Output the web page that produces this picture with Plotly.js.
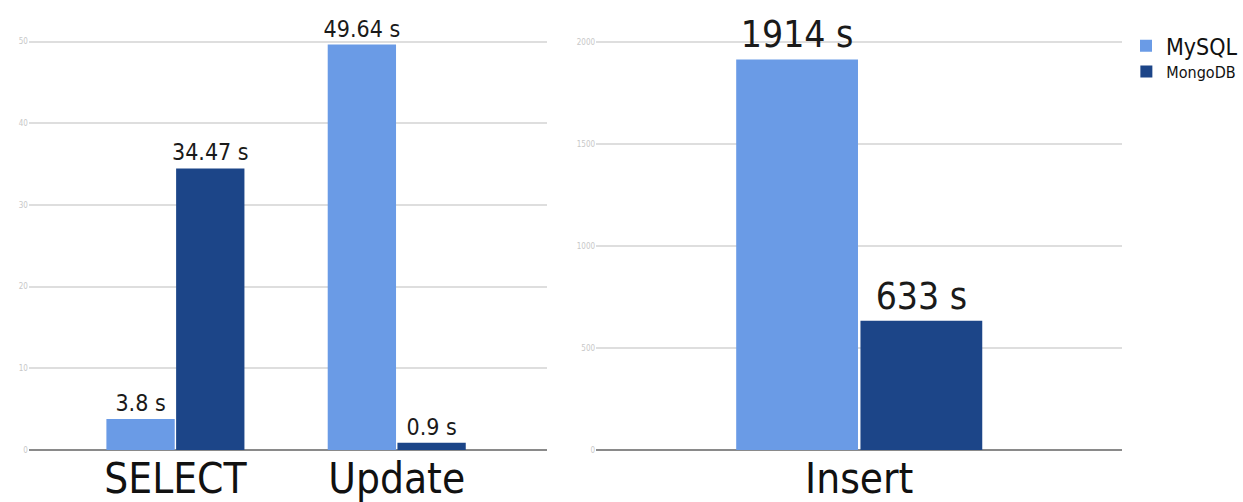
<!DOCTYPE html>
<html>
<head>
<meta charset="utf-8">
<script src="https://cdn.plot.ly/plotly-3.0.1.min.js"></script>
<style>html,body{margin:0;padding:0;background:#fff;}#chart{width:1243px;height:502px;}</style>
</head>
<body>
<div id="chart"></div>
<script>
const leftCategories = ['SELECT', 'Update'];
const leftMySQL = [3.8, 49.64];
const leftMongoDB = [34.47, 0.9];
const rightCategories = ['Insert'];
const rightMySQL = [1914];
const rightMongoDB = [633];
const seriesNames = ['MySQL', 'MongoDB'];
const leftTicks = [0, 10, 20, 30, 40, 50];
const rightTicks = [0, 500, 1000, 1500, 2000];

const FONT = 'DejaVu Sans Condensed, DejaVu Sans, sans-serif';
const C_MYSQL = '#6a9be6';
const C_MONGO = '#1c4588';
const lbl = v => v.map(x => x + ' s');

const common = {
  type: 'bar', textposition: 'outside', cliponaxis: false, constraintext: 'none',
  hoverinfo: 'skip'
};

const traces = [
  Object.assign({}, common, {x: leftCategories, y: leftMySQL, name: seriesNames[0], text: lbl(leftMySQL),
    marker: {color: C_MYSQL}, textfont: {family: FONT, size: 23, color: '#1a1a1a'},
    xaxis: 'x', yaxis: 'y', legend: 'legend'}),
  Object.assign({}, common, {x: leftCategories, y: leftMongoDB, name: seriesNames[1], text: lbl(leftMongoDB),
    marker: {color: C_MONGO}, textfont: {family: FONT, size: 23, color: '#1a1a1a'},
    xaxis: 'x', yaxis: 'y', legend: 'legend2'}),
  Object.assign({}, common, {x: rightCategories, y: rightMySQL, name: seriesNames[0], text: lbl(rightMySQL),
    marker: {color: C_MYSQL}, textfont: {family: FONT, size: 37, color: '#1a1a1a'},
    xaxis: 'x2', yaxis: 'y2', showlegend: false}),
  Object.assign({}, common, {x: rightCategories, y: rightMongoDB, name: seriesNames[1], text: lbl(rightMongoDB),
    marker: {color: C_MONGO}, textfont: {family: FONT, size: 37, color: '#1a1a1a'},
    xaxis: 'x2', yaxis: 'y2', showlegend: false})
];

const W = 1243;
const yCommon = {
  showgrid: true, gridcolor: '#dedede', gridwidth: 2,
  zeroline: true, zerolinecolor: '#8a8a8a', zerolinewidth: 2,
  showline: false, ticks: '', tickfont: {family: FONT, size: 8, color: '#c8c8c8'},
  fixedrange: true
};
const xCommon = {
  type: 'category', showgrid: false, zeroline: false, showline: false, ticks: '',
  tickfont: {family: FONT, size: 42, color: '#111'}, fixedrange: true
};

const layout = {
  width: 1243, height: 502,
  margin: {l: 0, r: 0, t: 0, b: 52},
  paper_bgcolor: '#fff', plot_bgcolor: '#fff',
  barmode: 'group', bargap: 0.37, bargroupgap: 0.02,
  font: {family: FONT},
  xaxis: Object.assign({}, xCommon, {domain: [29 / W, 549 / W], range: [-0.662, 1.680], anchor: 'y'}),
  yaxis: Object.assign({}, yCommon, {range: [0, 55.1], tickvals: leftTicks, anchor: 'x'}),
  xaxis2: Object.assign({}, xCommon, {domain: [598 / W, 1126 / W], range: [-0.667, 0.667], anchor: 'y2'}),
  yaxis2: Object.assign({}, yCommon, {range: [0, 2205], tickvals: rightTicks, anchor: 'x2'}),
  legend: {x: 1130 / W, y: 1 - 27 / 502, xanchor: 'left', yanchor: 'top', bgcolor: 'rgba(0,0,0,0)',
    font: {family: FONT, size: 23, color: '#111'}, itemwidth: 30, tracegroupgap: 0},
  legend2: {x: 1130 / W, y: 1 - 61 / 502, xanchor: 'left', yanchor: 'top', bgcolor: 'rgba(0,0,0,0)',
    font: {family: FONT, size: 16, color: '#111'}, itemwidth: 30, tracegroupgap: 0},
  showlegend: true
};

Plotly.newPlot('chart', traces, layout, {displayModeBar: false, staticPlot: true});
</script>
</body>
</html>
